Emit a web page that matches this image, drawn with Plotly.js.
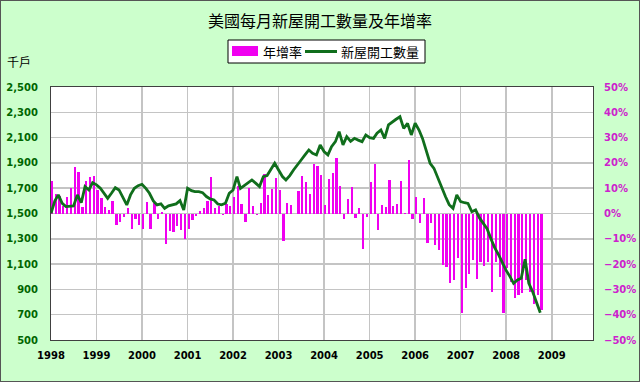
<!DOCTYPE html>
<html>
<head>
<meta charset="utf-8">
<script src="https://cdn.plot.ly/plotly-3.0.1.min.js"></script>
<style>
html,body{margin:0;padding:0;background:#ccffcc;}
#wrap{width:640px;height:382px;box-sizing:border-box;border:1px solid #555;overflow:hidden;}
#chart{width:638px;height:380px;}
</style>
</head>
<body>
<div id="wrap"><div id="chart"></div></div>
<script>
// Monthly data, Jan 1998 .. Oct 2008
const startYear = 1998;
const startMonth = 1;
// 新屋開工數量 (千戶)
const housingStarts = [
1502,1600,1647,1580,1555,1555,1560,1647,1585,1713,1686,1744,
1726,1700,1660,1620,1660,1704,1686,1620,1568,1647,1699,1720,
1731,1699,1660,1600,1568,1576,1541,1560,1570,1576,1602,1528,
1699,1680,1673,1673,1665,1634,1615,1607,1575,1568,1581,1660,
1686,1792,1699,1720,1739,1765,1740,1713,1792,1800,1850,1897,
1844,1792,1765,1800,1844,1880,1923,1963,2002,1976,1963,2042,
1990,1963,2028,2068,2147,2042,2107,2070,2094,2080,2068,2121,
2100,2094,2134,2160,2094,2200,2226,2245,2265,2173,2213,2121,
2213,2160,2094,2002,1897,1857,1780,1713,1634,1570,1541,1647,
1594,1585,1580,1514,1528,1465,1420,1380,1300,1230,1175,1110,
1050,1001,948,974,988,1138,948,882,803,716
];
// 年增率 (%)
const yoyGrowth = [
12.7,7.6,7.0,2.8,6.7,10.0,18.3,16.4,2.5,13.0,14.6,15.0,
9.4,6.0,2.5,1.2,5.1,-4.7,-3.2,-1.2,2.1,-6.2,-2.0,-4.5,
-6.2,4.4,-6.2,4.0,-2.2,0.5,-12.1,-7.1,-7.5,-5.1,-6.5,-10.2,
-6.2,-2.5,-1.0,1.0,2.1,5.1,14.3,2.1,3.0,-0.5,3.7,2.8,
6.5,11.0,3.7,-3.2,10.0,2.8,-0.5,4.3,15.6,7.4,9.6,14.0,
9.4,-10.8,4.3,3.4,-0.3,9.0,14.9,12.3,7.7,19.6,18.8,15.3,
3.2,13.6,16.0,21.9,10.7,-2.0,5.7,10.4,-1.6,2.1,-14.1,-1.2,
12.3,19.6,-6.4,3.2,2.5,13.2,3.0,3.8,13.0,0.3,21.0,-2.2,
6.4,-3.8,6.1,-11.5,-3.8,-12.4,-14.4,-20.3,-21.0,-27.3,-26.3,-17.4,
-39.2,-29.6,-24.0,-18.3,-26.0,-19.0,-20.7,-19.0,-30.9,-19.0,-24.9,-39.2,
-21.6,-26.9,-33.5,-32.2,-31.6,-26.3,-30.9,-35.8,-32.2,-38.2
];
const tickYears = ['1998','1999','2000','2001','2002','2003','2004','2005','2006','2007','2008','2009'];
const seriesNames = ['年增率', '新屋開工數量'];
const seriesColors = ['#f000f0', '#106e1c'];

const dates = housingStarts.map((_, i) => {
  const m = startMonth - 1 + i;
  const y = startYear + Math.floor(m / 12);
  const mm = (m % 12) + 1;
  return y + '-' + (mm < 10 ? '0' + mm : mm) + '-01';
});
const yoyFrac = yoyGrowth.map(v => v / 100);

const DAY = 86400000;
const tickFont = {family: 'DejaVu Sans, Verdana, sans-serif', size: 10, weight: 'bold'};

// plot area in page pixels: left 51, right 593, top 87, bottom 340
const PX = X => (X - 51) / 542;
const PY = Y => (340 - Y) / 253;

const traces = [
  {
    type: 'bar', name: seriesNames[0], x: dates, y: yoyFrac, yaxis: 'y',
    marker: {color: seriesColors[0], line: {width: 0}},
    width: 18 * DAY, offset: 0, hoverinfo: 'skip'
  },
  {
    type: 'scatter', mode: 'lines', name: seriesNames[1], x: dates, y: housingStarts, yaxis: 'y2',
    line: {color: seriesColors[1], width: 2.8}, hoverinfo: 'skip'
  }
];

const legendFont = {family: 'Noto Sans CJK TC, Noto Sans CJK SC, sans-serif', size: 13, color: '#000'};

const layout = {
  width: 638, height: 380,
  paper_bgcolor: '#ccffcc', plot_bgcolor: '#ffffff',
  margin: {l: 50, r: 46, t: 86, b: 41, pad: 0},
  showlegend: false,
  title: {text: '美國每月新屋開工數量及年增率', x: 0.5, xanchor: 'center', y: 0.947, yanchor: 'middle',
          font: {family: 'Noto Sans CJK TC, Noto Sans CJK SC, sans-serif', size: 16, color: '#000'}},
  bargap: 0,
  xaxis: {
    type: 'date', range: ['1998-01-01', '2009-11-28'],
    tickvals: tickYears.map(y => y + '-01-01'), ticktext: tickYears,
    showgrid: true, gridcolor: '#c4c4c4', gridwidth: 1.5,
    showline: true, linecolor: '#404040', linewidth: 1, mirror: true,
    ticks: '', tickfont: Object.assign({}, tickFont, {color: '#000'}),
    ticklabelstandoff: 6, zeroline: false, fixedrange: true
  },
  yaxis: {
    side: 'right', range: [-0.5, 0.5], dtick: 0.1, tick0: 0, tickformat: '.0%',
    showgrid: true, gridcolor: '#c4c4c4', gridwidth: 1.5,
    showline: true, linecolor: '#404040', linewidth: 1, mirror: true,
    zeroline: false, ticks: '', ticklabelstandoff: 8,
    tickfont: Object.assign({}, tickFont, {color: '#cc22cc'}), fixedrange: true
  },
  yaxis2: {
    side: 'left', overlaying: 'y', range: [500, 2500], dtick: 200, tick0: 500, tickformat: ',d',
    showgrid: false, zeroline: false, ticks: '', ticklabelstandoff: 12,
    tickfont: Object.assign({}, tickFont, {color: '#006600'}), fixedrange: true
  },
  shapes: [
    // legend box
    {type: 'rect', xref: 'paper', yref: 'paper', x0: PX(228), x1: PX(425), y0: PY(63), y1: PY(40),
     fillcolor: '#ffffff', line: {color: '#000000', width: 1}, layer: 'above'},
    {type: 'rect', xref: 'paper', yref: 'paper', x0: PX(232), x1: PX(258), y0: PY(56), y1: PY(46),
     fillcolor: seriesColors[0], line: {width: 0}, layer: 'above'},
    {type: 'line', xref: 'paper', yref: 'paper', x0: PX(305), x1: PX(337), y0: PY(51.5), y1: PY(51.5),
     line: {color: seriesColors[1], width: 3}, layer: 'above'}
  ],
  annotations: [
    {text: seriesNames[0], xref: 'paper', yref: 'paper', x: PX(261), y: PY(51.5), xanchor: 'left', yanchor: 'middle',
     showarrow: false, font: legendFont},
    {text: seriesNames[1], xref: 'paper', yref: 'paper', x: PX(339), y: PY(51.5), xanchor: 'left', yanchor: 'middle',
     showarrow: false, font: legendFont},
    {text: '千戶', xref: 'paper', yref: 'paper', x: PX(19), y: PY(62), xanchor: 'center', yanchor: 'middle',
     showarrow: false, font: {family: 'Noto Sans CJK TC, sans-serif', size: 12, color: '#000'}}
  ]
};

Plotly.newPlot('chart', traces, layout, {displayModeBar: false, staticPlot: true});
</script>
</body>
</html>
